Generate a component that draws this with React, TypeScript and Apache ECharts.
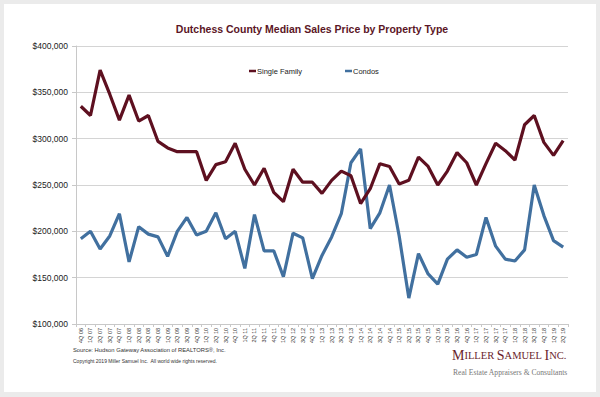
import React, { useEffect, useRef } from "react";
import * as echarts from "echarts";

const quarters: string[] = [
  "4Q 06",
  "1Q 07", "2Q 07", "3Q 07", "4Q 07",
  "1Q 08", "2Q 08", "3Q 08", "4Q 08",
  "1Q 09", "2Q 09", "3Q 09", "4Q 09",
  "1Q 10", "2Q 10", "3Q 10", "4Q 10",
  "1Q 11", "2Q 11", "3Q 11", "4Q 11",
  "1Q 12", "2Q 12", "3Q 12", "4Q 12",
  "1Q 13", "2Q 13", "3Q 13", "4Q 13",
  "1Q 14", "2Q 14", "3Q 14", "4Q 14",
  "1Q 15", "2Q 15", "3Q 15", "4Q 15",
  "1Q 16", "2Q 16", "3Q 16", "4Q 16",
  "1Q 17", "2Q 17", "3Q 17", "4Q 17",
  "1Q 18", "2Q 18", "3Q 18", "4Q 18",
  "1Q 19", "2Q 19",
];

const singleFamily: number[] = [
  335000,
  325000, 374000, 348000, 320000,
  347000, 319000, 325000, 297000,
  290000, 286000, 286000, 286000,
  255000, 272000, 275000, 295000,
  267000, 250000, 268000, 242000,
  232000, 267000, 253000, 253000,
  241000, 255000, 265000, 260000,
  230000, 246000, 273000, 270000,
  251000, 255000, 280000, 270000,
  250000, 265000, 285000, 274000,
  250000, 273000, 295000, 287000,
  277000, 315000, 325000, 296000,
  282000, 298000,
];

const condos: number[] = [
  192000,
  200000, 181000, 195000, 219000,
  167000, 205000, 197000, 194000,
  173000, 200000, 215000, 196000,
  200000, 220000, 192000, 200000,
  160000, 218000, 179000, 179000,
  151000, 198000, 193000, 149000,
  174000, 194000, 219000, 274000,
  289000, 203000, 220000, 250000,
  195000, 128000, 176000, 154000,
  143000, 170000, 180000, 172000,
  175000, 215000, 184000, 170000,
  168000, 180000, 250000, 217000,
  190000, 183000,
];

const seriesNames: string[] = ["Single Family", "Condos"];
const yTicks = { min: 100000, max: 400000, interval: 50000 };

const SF_COLOR = "#5e1020";
const CONDO_COLOR = "#41709f";

export default function App() {
  const ref = useRef<HTMLDivElement>(null);
  useEffect(() => {
    if (!ref.current) return;
    const chart = echarts.init(ref.current, null, { renderer: "svg" });
    chart.setOption({
      animation: false,
      backgroundColor: "#ebebeb",
      title: {
        text: "Dutchess County Median Sales Price by Property Type",
        left: 307,
        textAlign: "center",
        top: 18,
        textStyle: {
          fontFamily: "Liberation Sans, Arial, sans-serif",
          fontSize: 10.5,
          fontWeight: "bold",
          color: "#5b1626",
        },
      },
      legend: [
        {
          data: [seriesNames[0]],
          left: 244,
          top: 62,
          icon: "rect",
          itemWidth: 7,
          itemHeight: 2.5,
          itemGap: 2,
          textStyle: { fontFamily: "Liberation Sans, Arial, sans-serif", fontSize: 7.5, color: "#222", padding: [0, 0, 0, -4] },
        },
        {
          data: [seriesNames[1]],
          left: 340,
          top: 62,
          icon: "rect",
          itemWidth: 7,
          itemHeight: 2.5,
          textStyle: { fontFamily: "Liberation Sans, Arial, sans-serif", fontSize: 7.5, color: "#222", padding: [0, 0, 0, -4] },
        },
      ],
      grid: { left: 76, right: 32, top: 46, bottom: 73, containLabel: false },
      xAxis: {
        type: "category",
        data: quarters,
        boundaryGap: true,
        axisLine: { show: true, lineStyle: { color: "#c8c8c8", width: 1 } },
        axisTick: { show: true, length: 3, alignWithLabel: false, lineStyle: { color: "#c8c8c8" } },
        axisLabel: {
          interval: 0,
          rotate: 90,
          fontSize: 5.5,
          margin: 4,
          color: "#333",
          fontFamily: "Liberation Sans, Arial, sans-serif",
        },
      },
      yAxis: {
        type: "value",
        min: yTicks.min,
        max: yTicks.max,
        interval: yTicks.interval,
        axisLine: { show: true, lineStyle: { color: "#c8c8c8", width: 1 } },
        axisTick: { show: true, length: 4, lineStyle: { color: "#c8c8c8" } },
        splitLine: { show: true, lineStyle: { color: "#d4d4d4", width: 1 } },
        axisLabel: {
          fontSize: 8.5,
          margin: 8,
          color: "#222",
          fontFamily: "Liberation Sans, Arial, sans-serif",
          formatter: (v: number) => "$" + v.toLocaleString("en-US"),
        },
      },
      series: [
        {
          name: seriesNames[0],
          type: "line",
          data: singleFamily,
          symbol: "none",
          color: SF_COLOR,
          lineStyle: { color: SF_COLOR, width: 3.2 },
          z: 3,
        },
        {
          name: seriesNames[1],
          type: "line",
          data: condos,
          symbol: "none",
          color: CONDO_COLOR,
          lineStyle: { color: CONDO_COLOR, width: 3.2 },
          z: 2,
        },
      ],
      graphic: [
        {
          type: "rect",
          z: -10,
          silent: true,
          shape: { x: 4, y: 4, width: 592, height: 388 },
          style: { fill: "#ffffff" },
        },
        {
          type: "text",
          left: 73,
          top: 347,
          style: {
            text: "Source: Hudson Gateway Association of REALTORS®, Inc.",
            fontFamily: "Liberation Sans, Arial, sans-serif",
            fontSize: 5.8,
            fill: "#333",
          },
        },
        {
          type: "text",
          left: 73,
          top: 358,
          style: {
            text: "Copyright 2019 Miller Samuel Inc.  All world wide rights reserved.",
            fontFamily: "Liberation Sans, Arial, sans-serif",
            fontSize: 5,
            fill: "#333",
          },
        },
        {
          type: "text",
          left: 452,
          top: 348,
          style: {
            text: "{b|M}{s|ILLER }{b|S}{s|AMUEL }{b|I}{s|NC.}",
            rich: {
              b: { fontFamily: "Liberation Serif, Times New Roman, serif", fontSize: 14, fill: "#6a1e2c" },
              s: { fontFamily: "Liberation Serif, Times New Roman, serif", fontSize: 10.5, fill: "#6a1e2c" },
            },
          },
        },
        {
          type: "text",
          left: 453,
          top: 368,
          style: {
            text: "Real Estate Appraisers & Consultants",
            fontFamily: "Liberation Serif, Times New Roman, serif",
            fontSize: 7.6,
            fill: "#777",
          },
        },
      ],
    });
    return () => chart.dispose();
  }, []);
  return (
    <div style={{ position: "absolute", left: 0, top: 0, width: 600, height: 397 }}>
      <div ref={ref} style={{ width: 600, height: 397 }} />
    </div>
  );
}
